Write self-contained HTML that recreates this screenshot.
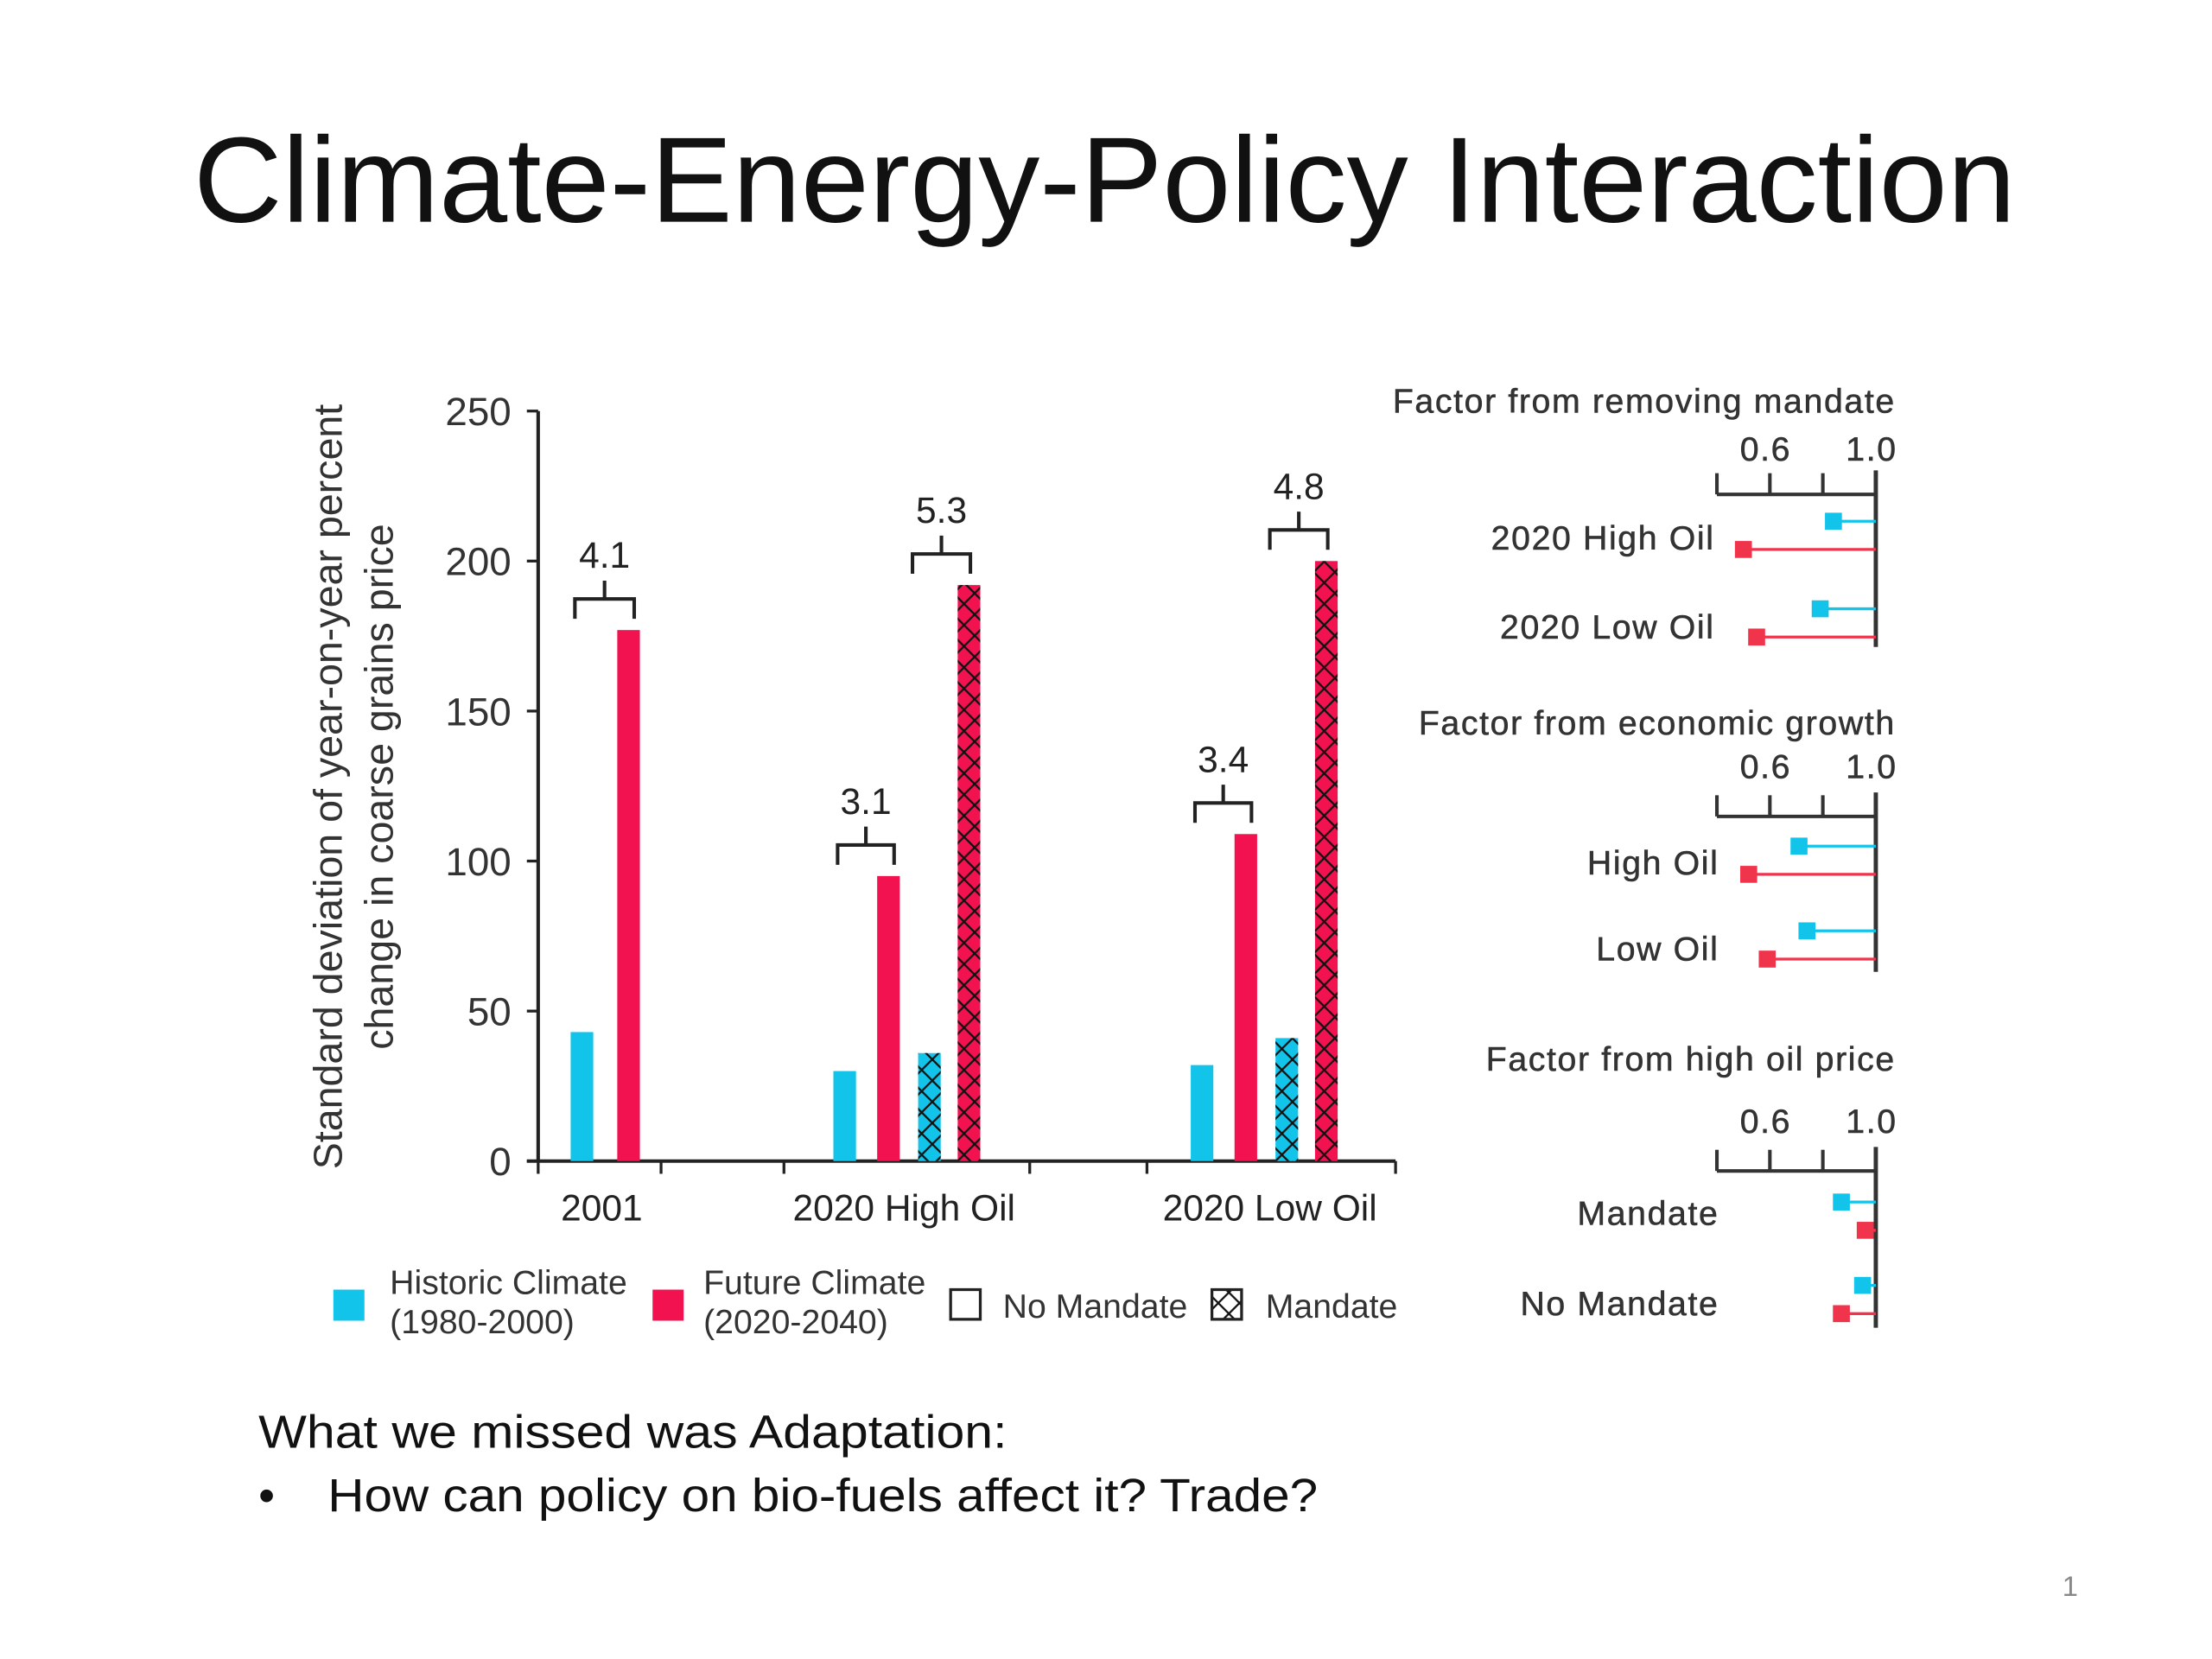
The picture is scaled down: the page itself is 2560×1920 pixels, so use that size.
<!DOCTYPE html>
<html><head><meta charset="utf-8"><style>
html,body{margin:0;padding:0;background:#fff;}
svg{display:block;}
text{font-family:"Liberation Sans",Arial,sans-serif;}
#right text{letter-spacing:1px;stroke:#333;stroke-width:0.35px;}
</style></head><body>
<svg id="s" width="2560" height="1920" viewBox="0 0 1566 1174.5" preserveAspectRatio="none" xmlns="http://www.w3.org/2000/svg">
<defs>
<pattern id="hatch" patternUnits="userSpaceOnUse" width="15" height="15">
<path d="M0 0L15 15M15 0L0 15" stroke="#111" stroke-width="1.4"/>
</pattern>
</defs>
<rect width="1566" height="1174.5" fill="#fff"/>
<text x="137" y="157" font-size="86" textLength="1290" lengthAdjust="spacingAndGlyphs" fill="#111">Climate-Energy-Policy Interaction</text>
<g id="chart"></g>
<g id="right"></g>
<text x="183" y="1025" font-size="33" textLength="530" lengthAdjust="spacingAndGlyphs" fill="#111">What we missed was Adaptation:</text>
<text x="183" y="1070" font-size="33" fill="#111">•</text>
<text x="232" y="1070" font-size="33" textLength="701" lengthAdjust="spacingAndGlyphs" fill="#111">How can policy on bio-fuels affect it? Trade?</text>
<text x="1460" y="1130" font-size="20" fill="#888">1</text>
</svg>
<script>
// ---- main chart data ----
const categories = ["2001","2020 High Oil","2020 Low Oil"];
const historicNoMandate = [43, 30, 32];
const futureNoMandate = [177, 95, 109];
const historicMandate = [null, 36, 41];
const futureMandate = [null, 192, 200];
const ratioNoMandate = ["4.1","3.1","3.4"];
const ratioMandate = [null,"5.3","4.8"];
const yTicks = [0,50,100,150,200,250];
// ---- factor panels data ----
const panelTitles = ["Factor from removing mandate","Factor from economic growth","Factor from high oil price"];
const panelRows = [["2020 High Oil","2020 Low Oil"],["High Oil","Low Oil"],["Mandate","No Mandate"]];
const historicFactor = [[0.84,0.79],[0.71,0.74],[0.87,0.95]];
const futureFactor = [[0.50,0.55],[0.52,0.59],[0.96,0.87]];
const factorTicks = ["0.6","1.0"];

const NS="http://www.w3.org/2000/svg";
const CY="#12c4ea", RD="#f2124f";
function mk(parent,tag,attrs,txt){const e=document.createElementNS(NS,tag);for(const k in attrs)e.setAttribute(k,attrs[k]);if(txt!=null)e.textContent=txt;parent.appendChild(e);return e;}
const g=document.getElementById('chart');
const y0=822, y250=291;
const ys=v=>y0-(y0-y250)*v/250;
const axL=381, axR=988;
const groupStart=[404,590,843];
const bw=16;

let e;
e=mk(g,'line',{x1:axL,y1:ys(250),x2:axL,y2:y0,stroke:'#222','stroke-width':2.5});


e=mk(g,'line',{x1:axL-8,y1:y0,x2:axR,y2:y0,stroke:'#222','stroke-width':2.5});


yTicks.forEach(t=>{
  mk(g,'line',{x1:axL-8,y1:ys(t),x2:axL,y2:ys(t),stroke:'#222','stroke-width':2});
  e=mk(g,'text',{x:362,y:ys(t)+10,'font-size':28,'text-anchor':'end',fill:'#333'},t);
  
  
});
[381,468,555,729,812,988].forEach(x=>mk(g,'line',{x1:x,y1:y0,x2:x,y2:y0+9,stroke:'#222','stroke-width':2}));
const catX=[426,640,899];
categories.forEach((c,i)=>{
  e=mk(g,'text',{x:catX[i],y:864,'font-size':26,'text-anchor':'middle',fill:'#222'},c);
  
  
});
e=mk(g,'text',{transform:'translate(242,557) rotate(-90)','font-size':28.5,'text-anchor':'middle',fill:'#333'},'Standard deviation of year-on-year percent');


e=mk(g,'text',{transform:'translate(278,557) rotate(-90)','font-size':28.5,'text-anchor':'middle',fill:'#333'},'change in coarse grains price');



function bar(x,v,col,hatch,name){
  const r=mk(g,'rect',{x:x,y:ys(v),width:bw,height:y0-ys(v),fill:col});
  
  
  if(hatch) mk(g,'rect',{x:x,y:ys(v),width:bw,height:y0-ys(v),fill:'url(#hatch)'});
}
function bracket(x1,x2,top,label){
  const yb=top-14;
  mk(g,'path',{d:`M${x1} ${yb+14}V${yb}H${x2}V${yb+14}M${(x1+x2)/2} ${yb}V${yb-13}`,stroke:'#222','stroke-width':2.5,fill:'none'});
  const t=mk(g,'text',{x:(x1+x2)/2,y:yb-22,'font-size':26,'text-anchor':'middle',fill:'#222'},label);
  
  
}
categories.forEach((c,i)=>{
  const xs=[groupStart[i],groupStart[i]+31,groupStart[i]+60,groupStart[i]+88];
  if(i===0){xs[1]=437;}
  bar(xs[0],historicNoMandate[i],CY,false,'bar-historic-no-mandate');
  bar(xs[1],futureNoMandate[i],RD,false,'bar-future-no-mandate');
  bracket(xs[0]+3,xs[1]+bw-4,ys(Math.max(historicNoMandate[i],futureNoMandate[i]))-8,ratioNoMandate[i]);
  if(historicMandate[i]!=null){
    bar(xs[2],historicMandate[i],CY,true,'bar-historic-mandate');
    bar(xs[3],futureMandate[i],RD,true,'bar-future-mandate');
    bracket(xs[2]-4,xs[3]+bw-7,ys(Math.max(historicMandate[i],futureMandate[i]))-8,ratioMandate[i]);
  }
});
const lg=mk(g,'g',{});


mk(lg,'rect',{x:236,y:913,width:22,height:22,fill:CY});
mk(lg,'text',{x:276,y:916,'font-size':24,fill:'#333'},'Historic Climate');
mk(lg,'text',{x:276,y:944,'font-size':24,fill:'#333'},'(1980-2000)');
mk(lg,'rect',{x:462,y:913,width:22,height:22,fill:RD});
mk(lg,'text',{x:498,y:916,'font-size':24,fill:'#333'},'Future Climate');
mk(lg,'text',{x:498,y:944,'font-size':24,fill:'#333'},'(2020-2040)');
mk(lg,'rect',{x:673,y:913,width:21,height:21,fill:'none',stroke:'#222','stroke-width':2});
mk(lg,'text',{x:710,y:933,'font-size':24,fill:'#333'},'No Mandate');
mk(lg,'rect',{x:858,y:913,width:21,height:21,fill:'url(#hatch)',stroke:'#222','stroke-width':2});
mk(lg,'text',{x:896,y:933,'font-size':24,fill:'#333'},'Mandate');

const R=document.getElementById('right');
const fx=v=>1328-(1.0-v)*187.5;
const panelY=[284,512,750];
const tickLblY=[318,543,794];
const axY=[350,578,829];
const rowY=[[369,431],[599,659],[851,910]];
const rowLblY=[[381,444],[611,672],[859,923]];
const botY=[458,688,940];
panelTitles.forEach((t,p)=>{
  e=mk(R,'text',{x:1342,y:panelY[p]+8,'font-size':24,'text-anchor':'end',fill:'#333'},t);
  
  
  mk(R,'text',{x:fx(0.6)-3,y:tickLblY[p]+8,'font-size':24,'text-anchor':'middle',fill:'#333'},factorTicks[0]);
  mk(R,'text',{x:fx(1.0)-3,y:tickLblY[p]+8,'font-size':24,'text-anchor':'middle',fill:'#333'},factorTicks[1]);
  mk(R,'line',{x1:fx(0.4),y1:axY[p],x2:fx(1.0),y2:axY[p],stroke:'#333','stroke-width':2.5});
  [0.4,0.6,0.8].forEach(v=>mk(R,'line',{x1:fx(v),y1:axY[p]-15,x2:fx(v),y2:axY[p],stroke:'#333','stroke-width':2.5}));
  mk(R,'line',{x1:fx(1.0),y1:axY[p]-17,x2:fx(1.0),y2:botY[p],stroke:'#333','stroke-width':3});
  panelRows[p].forEach((lab,r)=>{
    e=mk(R,'text',{x:p===0?1214:1217,y:rowLblY[p][r]+8,'font-size':24,'text-anchor':'end',fill:'#333'},lab);
    
    
    const yc=rowY[p][r], yr=yc+20;
    mk(R,'line',{x1:fx(historicFactor[p][r]),y1:yc,x2:fx(1.0),y2:yc,stroke:CY,'stroke-width':2});
    e=mk(R,'rect',{x:fx(historicFactor[p][r])-6,y:yc-6,width:12,height:12,fill:CY});
    
    
    mk(R,'line',{x1:fx(futureFactor[p][r]),y1:yr,x2:fx(1.0),y2:yr,stroke:'#f0344c','stroke-width':2});
    e=mk(R,'rect',{x:fx(futureFactor[p][r])-6,y:yr-6,width:12,height:12,fill:'#f0344c'});
    
    
  });
});
</script>
</body></html>
